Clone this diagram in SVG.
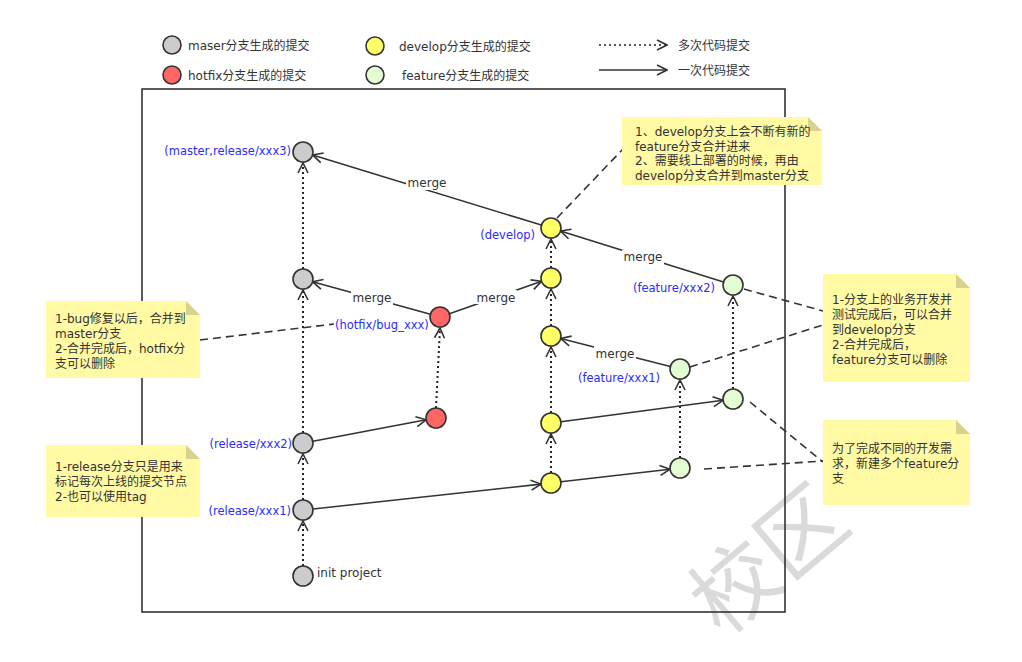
<svg xmlns="http://www.w3.org/2000/svg" width="1022" height="662" viewBox="0 0 1022 662">
<style>
text{font-family:"DejaVu Sans","Noto Sans CJK SC",sans-serif;font-size:12px;fill:#333}
.lbl{fill:#2b2bff;font-size:11.5px}
.c{stroke:#333;stroke-width:1.6}
.g{fill:#cccccc}.r{fill:#ff6666}.y{fill:#ffff66}.f{fill:#e4fcd4}
.dot{stroke:#222;stroke-width:2;stroke-dasharray:2,3;fill:none}
.sol{stroke:#333;stroke-width:1.6;fill:none}
.dash{stroke:#333;stroke-width:1.6;stroke-dasharray:8,5;fill:none}
.note{fill:#fffaa3}
.fold{fill:#d8d28c}
</style>
<defs>
<marker id="a" viewBox="0 0 12 12" refX="11" refY="6" markerWidth="12" markerHeight="12" markerUnits="userSpaceOnUse" orient="auto">
<path d="M1,1 L11,6 L1,11" fill="none" stroke="#333" stroke-width="1.6"/>
</marker>
</defs>
<rect width="1022" height="662" fill="#fff"/>
<text x="722" y="638" transform="rotate(-40 722 638)" style="font-family:'Noto Sans CJK SC',sans-serif;font-size:86px;fill:#dadada">校区</text>
<g id="legend">
<circle class="c g" cx="172" cy="45" r="9"/><text x="188" y="50">maser分支生成的提交</text>
<circle class="c r" cx="172" cy="75" r="9"/><text x="188" y="80">hotfix分支生成的提交</text>
<circle class="c y" cx="375" cy="46" r="9"/><text x="399" y="51">develop分支生成的提交</text>
<circle class="c f" cx="375" cy="75" r="9"/><text x="402" y="80">feature分支生成的提交</text>
<line class="dot" x1="599" y1="45" x2="667" y2="45" marker-end="url(#a)" style="stroke-width:1.5"/>
<text x="678" y="50">多次代码提交</text>
<line class="sol" x1="599" y1="70" x2="667" y2="70" marker-end="url(#a)"/>
<text x="678" y="75">一次代码提交</text>
</g>
<rect id="frame" x="142" y="89" width="643" height="523" fill="none" stroke="#333" stroke-width="1.6"/>
<g id="connectors">
<line class="dot" x1="303" y1="566" x2="303" y2="521" marker-end="url(#a)"/>
<line class="dot" x1="303" y1="500" x2="303" y2="454" marker-end="url(#a)"/>
<line class="dot" x1="303" y1="433" x2="303" y2="290" marker-end="url(#a)"/>
<line class="dot" x1="303" y1="269" x2="303" y2="163" marker-end="url(#a)"/>
<line class="dot" x1="436" y1="408" x2="440" y2="328" marker-end="url(#a)"/>
<line class="dot" x1="551" y1="473" x2="551" y2="434" marker-end="url(#a)"/>
<line class="dot" x1="551" y1="413" x2="551" y2="347" marker-end="url(#a)"/>
<line class="dot" x1="551" y1="326" x2="551" y2="289" marker-end="url(#a)"/>
<line class="dot" x1="551" y1="268" x2="551" y2="239" marker-end="url(#a)"/>
<line class="dot" x1="680" y1="458" x2="680" y2="380" marker-end="url(#a)"/>
<line class="dot" x1="733" y1="389" x2="733" y2="296" marker-end="url(#a)"/>
<line class="sol" x1="313" y1="509" x2="541" y2="484.1" marker-end="url(#a)"/>
<line class="sol" x1="561" y1="481.8" x2="670" y2="469.2" marker-end="url(#a)"/>
<line class="sol" x1="313" y1="441.2" x2="426.2" y2="419.8" marker-end="url(#a)"/>
<line class="sol" x1="561" y1="421.7" x2="723.1" y2="400.3" marker-end="url(#a)"/>
<line class="sol" x1="430.4" y1="314.3" x2="312.6" y2="281.7" marker-end="url(#a)"/>
<line class="sol" x1="449.4" y1="313.7" x2="541.6" y2="281.3" marker-end="url(#a)"/>
<line class="sol" x1="541.4" y1="225.1" x2="312.6" y2="154.9" marker-end="url(#a)"/>
<line class="sol" x1="723.5" y1="282" x2="560.5" y2="231" marker-end="url(#a)"/>
<line class="sol" x1="670.3" y1="366.5" x2="560.7" y2="338.5" marker-end="url(#a)"/>
<g fill="#fff">
<rect x="351" y="291" width="42" height="14"/>
<rect x="475" y="290" width="42" height="14"/>
<rect x="406" y="176" width="42" height="14"/>
<rect x="622" y="250" width="42" height="14"/>
<rect x="594" y="346" width="42" height="14"/>
</g>
<text x="372" y="302" text-anchor="middle">merge</text>
<text x="496" y="302" text-anchor="middle">merge</text>
<text x="427" y="187" text-anchor="middle">merge</text>
<text x="643" y="261" text-anchor="middle">merge</text>
<text x="615" y="358" text-anchor="middle">merge</text>
<line class="dash" x1="557" y1="218" x2="624" y2="148"/>
<line class="dash" x1="200" y1="340" x2="334" y2="324"/>
<line class="dash" x1="744" y1="289" x2="823" y2="311"/>
<line class="dash" x1="690" y1="367" x2="823" y2="325"/>
<line class="dash" x1="750" y1="402" x2="823" y2="462"/>
<line class="dash" x1="704" y1="469" x2="823" y2="461"/>
</g>
<g id="n-master3"><circle class="c g" cx="303" cy="152" r="10"/><text class="lbl" x="291" y="155" text-anchor="end">(master,release/xxx3)</text></g>
<g id="n-master2"><circle class="c g" cx="303" cy="279" r="10"/></g>
<g id="n-release2"><circle class="c g" cx="303" cy="443" r="10"/><text class="lbl" x="292" y="448" text-anchor="end">(release/xxx2)</text></g>
<g id="n-release1"><circle class="c g" cx="303" cy="510" r="10"/><text class="lbl" x="291" y="515" text-anchor="end">(release/xxx1)</text></g>
<g id="n-init"><circle class="c g" cx="303" cy="576" r="10"/><text x="317" y="577">init project</text></g>
<g id="n-hotfix2"><circle class="c r" cx="440" cy="317" r="10"/><text class="lbl" x="335" y="329">(hotfix/bug_xxx)</text></g>
<g id="n-hotfix1"><circle class="c r" cx="436" cy="418" r="10"/></g>
<g id="n-dev5"><circle class="c y" cx="551" cy="228" r="10"/><text class="lbl" x="535" y="239" text-anchor="end">(develop)</text></g>
<g id="n-dev4"><circle class="c y" cx="551" cy="278" r="10"/></g>
<g id="n-dev3"><circle class="c y" cx="551" cy="336" r="10"/></g>
<g id="n-dev2"><circle class="c y" cx="551" cy="423" r="10"/></g>
<g id="n-dev1"><circle class="c y" cx="551" cy="483" r="10"/></g>
<g id="n-feat1b"><circle class="c f" cx="680" cy="369" r="10"/><text class="lbl" x="660" y="382" text-anchor="end">(feature/xxx1)</text></g>
<g id="n-feat2b"><circle class="c f" cx="733" cy="285" r="10"/><text class="lbl" x="715" y="292" text-anchor="end">(feature/xxx2)</text></g>
<g id="n-feat2a"><circle class="c f" cx="733" cy="399" r="10"/></g>
<g id="n-feat1a"><circle class="c f" cx="680" cy="468" r="10"/></g>
<g id="note-develop">
<path class="note" d="M622,117 H808 L822,131 V185 H622 Z"/><path class="fold" d="M808,117 V131 H822 Z"/>
<text x="635" y="136">1、develop分支上会不断有新的</text>
<text x="635" y="151">feature分支合并进来</text>
<text x="635" y="165">2、需要线上部署的时候，再由</text>
<text x="635" y="180">develop分支合并到master分支</text>
</g>
<g id="note-hotfix">
<path class="note" d="M46,301 H186 L200,315 V378 H46 Z"/><path class="fold" d="M186,301 V315 H200 Z"/>
<text x="55" y="323">1-bug修复以后，合并到</text>
<text x="55" y="338">master分支</text>
<text x="55" y="353">2-合并完成后，hotfix分</text>
<text x="55" y="368">支可以删除</text>
</g>
<g id="note-release">
<path class="note" d="M46,445 H186 L200,459 V517 H46 Z"/><path class="fold" d="M186,445 V459 H200 Z"/>
<text x="55" y="471">1-release分支只是用来</text>
<text x="55" y="486">标记每次上线的提交节点</text>
<text x="55" y="501">2-也可以使用tag</text>
</g>
<g id="note-feature-merge">
<path class="note" d="M823,274 H956 L970,288 V382 H823 Z"/><path class="fold" d="M956,274 V288 H970 Z"/>
<text x="832" y="304">1-分支上的业务开发并</text>
<text x="832" y="319">测试完成后，可以合并</text>
<text x="832" y="334">到develop分支</text>
<text x="832" y="349">2-合并完成后，</text>
<text x="832" y="364">feature分支可以删除</text>
</g>
<g id="note-feature-new">
<path class="note" d="M823,420 H956 L970,434 V505 H823 Z"/><path class="fold" d="M956,420 V434 H970 Z"/>
<text x="832" y="453">为了完成不同的开发需</text>
<text x="832" y="468">求，新建多个feature分</text>
<text x="832" y="483">支</text>
</g>
</svg>
